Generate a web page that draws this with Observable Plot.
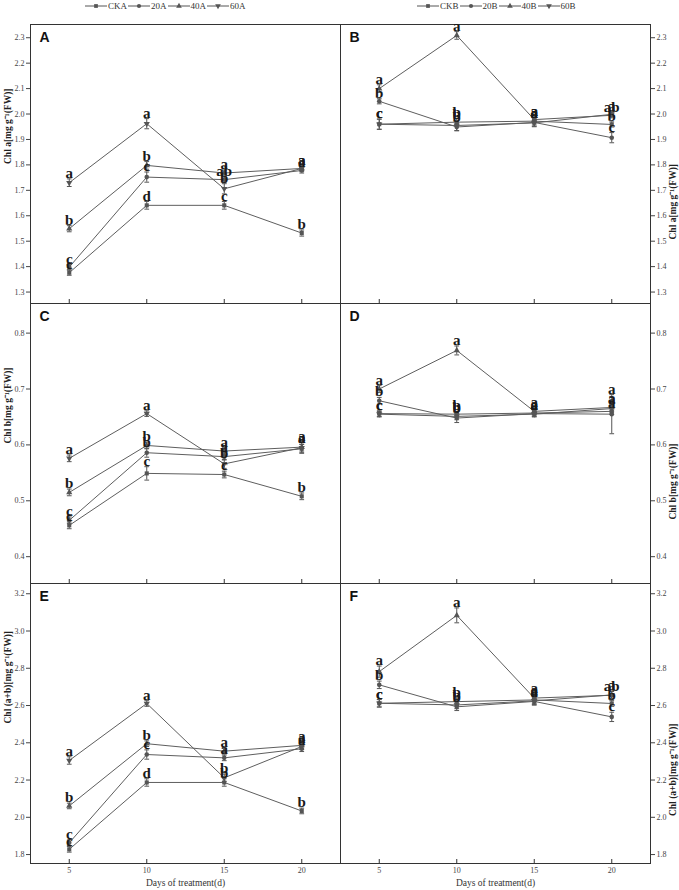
<!DOCTYPE html>
<html><head><meta charset="utf-8">
<script src="https://cdn.jsdelivr.net/npm/d3@7"></script>
<script src="https://cdn.jsdelivr.net/npm/@observablehq/plot@0.6"></script>
<style>
body{margin:0;background:#fff;}
#root{position:relative;width:679px;height:890px;overflow:hidden;background:#fff;font-family:"Liberation Serif",serif;}
.panel{position:absolute;}
.panel svg{overflow:visible;display:block;font-family:"Liberation Serif",serif;}
.legend{position:absolute;top:0;display:flex;align-items:center;font-size:9px;color:#333;height:11px;white-space:nowrap;font-family:"Liberation Serif",serif;}
.legend svg{display:block;}
.legend span{margin:0 1px;}
</style></head><body><div id="root"></div>
<script>
// ---------- data ----------
const days = [5, 10, 15, 20];
const seriesA = ["CKA", "20A", "40A", "60A"];
const seriesB = ["CKB", "20B", "40B", "60B"];

// Chl a, A group (rows: CK, 20, 40, 60)
const chlA_A = [[1.376, 1.641, 1.641, 1.532], [1.398, 1.752, 1.742, 1.778], [1.549, 1.798, 1.768, 1.786], [1.730, 1.962, 1.706, 1.786]];
const errA_A = [[0.010, 0.015, 0.015, 0.012], [0.010, 0.020, 0.012, 0.010], [0.012, 0.015, 0.012, 0.010], [0.015, 0.020, 0.020, 0.010]];
const letA_A = [["c", "d", "c", "b"], ["c", "c", "ab", "a"], ["b", "b", "a", "a"], ["a", "a", "b", "a"]];
// Chl a, B group
const chlA_B = [[1.960, 1.968, 1.972, 1.959], [2.050, 1.949, 1.967, 1.907], [2.100, 2.309, 1.978, 1.995], [1.960, 1.955, 1.965, 1.999]];
const errA_B = [[0.020, 0.015, 0.015, 0.010], [0.010, 0.015, 0.015, 0.020], [0.015, 0.015, 0.010, 0.010], [0.020, 0.020, 0.015, 0.010]];
const letA_B = [["c", "b", "a", "b"], ["b", "b", "a", "c"], ["a", "a", "a", "ab"], ["c", "b", "a", "a"]];
// Chl b, A group
const chlB_A = [[0.456, 0.549, 0.547, 0.508], [0.465, 0.586, 0.579, 0.593], [0.515, 0.599, 0.589, 0.596], [0.576, 0.656, 0.566, 0.595]];
const errB_A = [[0.006, 0.012, 0.006, 0.006], [0.006, 0.008, 0.006, 0.008], [0.006, 0.006, 0.006, 0.010], [0.006, 0.005, 0.008, 0.006]];
const letB_A = [["c", "c", "c", "b"], ["c", "b", "a", "a"], ["b", "b", "a", "a"], ["a", "a", "b", "a"]];
// Chl b, B group
const chlB_B = [[0.656, 0.655, 0.657, 0.660], [0.679, 0.648, 0.656, 0.655], [0.700, 0.769, 0.660, 0.667], [0.655, 0.651, 0.655, 0.665]];
const errB_B = [[0.005, 0.005, 0.005, 0.005], [0.006, 0.008, 0.005, 0.035], [0.006, 0.008, 0.006, 0.006], [0.005, 0.006, 0.005, 0.006]];
const letB_B = [["c", "b", "a", "a"], ["b", "b", "a", "a"], ["a", "a", "a", "a"], ["c", "b", "a", "a"]];
// Chl (a+b), A group
const chlT_A = [[1.828, 2.187, 2.187, 2.034], [1.863, 2.337, 2.319, 2.368], [2.061, 2.395, 2.355, 2.386], [2.305, 2.611, 2.212, 2.380]];
const errT_A = [[0.015, 0.020, 0.020, 0.015], [0.015, 0.025, 0.015, 0.015], [0.015, 0.015, 0.015, 0.020], [0.020, 0.015, 0.020, 0.015]];
const letT_A = [["c", "d", "b", "b"], ["c", "c", "a", "a"], ["b", "b", "a", "a"], ["a", "a", "b", "a"]];
// Chl (a+b), B group
const chlT_B = [[2.612, 2.621, 2.630, 2.611], [2.711, 2.593, 2.622, 2.539], [2.782, 3.084, 2.640, 2.655], [2.612, 2.603, 2.625, 2.657]];
const errT_B = [[0.020, 0.020, 0.020, 0.015], [0.020, 0.020, 0.020, 0.025], [0.030, 0.040, 0.020, 0.020], [0.020, 0.020, 0.020, 0.020]];
const letT_B = [["c", "b", "a", "b"], ["b", "b", "a", "c"], ["a", "a", "a", "ab"], ["c", "b", "a", "a"]];

const ticksChlA = [1.3, 1.4, 1.5, 1.6, 1.7, 1.8, 1.9, 2.0, 2.1, 2.2, 2.3];
const ticksChlB = [0.4, 0.5, 0.6, 0.7, 0.8];
const ticksChlT = [1.8, 2.0, 2.2, 2.4, 2.6, 2.8, 3.0, 3.2];
const labelChlA = "Chl a[mg g\u207B\u00B9(FW)]";
const labelChlB = "Chl b[mg g\u207B\u00B9(FW)]";
const labelChlT = "Chl (a+b)[mg g\u207B\u00B9(FW)]";
const xTitle = "Days of treatment(d)";

// ---------- symbols ----------
const sqrt3 = Math.sqrt(3);
const triDown = {draw(ctx, size) {
  const y = -Math.sqrt(size / (sqrt3 * 3));
  ctx.moveTo(0, -y * 2); ctx.lineTo(-sqrt3 * y, y); ctx.lineTo(sqrt3 * y, y); ctx.closePath();
}};
const capSym = {draw(ctx, size) { const w = Math.sqrt(size) / 1.2; ctx.moveTo(-w, 0); ctx.lineTo(w, 0); }};
const symbols = [d3.symbolSquare, d3.symbolCircle, d3.symbolTriangle, triDown];

const INK = "#555";
const SERIF = "Liberation Serif";
const root = document.getElementById("root");

function panel(cfg) {
  const {series, values, errs, letters, yDomain, yTicks, yLabel, tag, side, bottom, top, H} = cfg;
  const rows = [];
  series.forEach((s, i) => days.forEach((d, j) => rows.push({s, day: d, v: values[i][j], e: errs[i][j], L: letters[i][j]})));
  const left = side === "left";
  const mb = bottom ? 30 : 0;
  const plot = Plot.plot({
    width: left ? 340 : 339,
    height: H + mb,
    marginLeft: left ? 30 : 0,
    marginRight: left ? 0 : 29,
    marginTop: 0,
    marginBottom: mb,
    x: {domain: [2.5, 22.5], axis: null},
    y: {domain: yDomain, axis: null},
    symbol: {domain: series, range: symbols},
    style: {background: "transparent", overflow: "visible", fontFamily: SERIF},
    marks: [
      Plot.frame({stroke: "#333", strokeWidth: 1}),
      Plot.axisY({anchor: left ? "left" : "right", ticks: yTicks, tickFormat: d3.format(".1f"), tickSize: 4, tickPadding: 2, label: null, fontSize: 8, fontFamily: SERIF, color: "#444"}),
      Plot.tickX(days, {x: d => d, insetTop: H - 4, stroke: "#333"}),
      bottom ? Plot.axisX({ticks: days, tickSize: 0, tickPadding: 4, label: null, fontSize: 8, fontFamily: SERIF, color: "#444"}) : null,
      bottom ? Plot.text([xTitle], {text: d => d, frameAnchor: "bottom", dy: 22, fontSize: 9.5, fontFamily: SERIF, fill: "#333"}) : null,
      Plot.text([yLabel], {text: d => d, frameAnchor: left ? "left" : "right", rotate: -90, dx: left ? -23 : 22, fontWeight: "bold", fontSize: 9.5, fontFamily: SERIF, fill: "#222"}),
      Plot.text([tag], {text: d => d, frameAnchor: "top-left", dx: 9, dy: 8, lineAnchor: "top", textAnchor: "start", fontFamily: "Liberation Sans", fontWeight: "bold", fontSize: 14, fill: "#111"}),
      Plot.line(rows, {x: "day", y: "v", z: "s", stroke: "#5e5e5e", strokeWidth: 1}),
      Plot.ruleX(rows, {x: "day", y1: d => d.v - d.e, y2: d => d.v + d.e, stroke: INK, strokeWidth: 1}),
      Plot.dot(rows, {x: "day", y: d => d.v + d.e, symbol: capSym, r: 1.6, stroke: INK, strokeWidth: 1}),
      Plot.dot(rows, {x: "day", y: d => d.v - d.e, symbol: capSym, r: 1.6, stroke: INK, strokeWidth: 1}),
      Plot.dot(rows, {x: "day", y: "v", symbol: "s", r: 2.3, fill: INK, stroke: "none"}),
      Plot.text(rows, {x: "day", y: d => d.v + d.e, text: "L", dy: -1, lineAnchor: "bottom", fontWeight: "bold", fontSize: 15, fontFamily: SERIF, fill: "#1a1a1a"})
    ]
  });
  const div = document.createElement("div");
  div.className = "panel";
  div.style.left = (left ? 0 : 340) + "px";
  div.style.top = top + "px";
  div.appendChild(plot);
  root.appendChild(div);
}

function legend(series, x) {
  const div = document.createElement("div");
  div.className = "legend";
  div.style.left = x + "px";
  div.style.top = "0px";
  series.forEach((s, i) => {
    const path = d3.symbol(symbols[i], 14)();
    div.insertAdjacentHTML("beforeend",
      `<svg width="22" height="10"><line x1="0" y1="5" x2="22" y2="5" stroke="${INK}" stroke-width="1"/><path d="${path}" transform="translate(11,5)" fill="${INK}"/></svg><span>${s}</span>`);
  });
  root.appendChild(div);
}

legend(seriesA, 85);
legend(seriesB, 417);

panel({series: seriesA, values: chlA_A, errs: errA_A, letters: letA_A, yDomain: [1.255, 2.352], yTicks: ticksChlA, yLabel: labelChlA, tag: "A", side: "left", top: 24, H: 279});
panel({series: seriesB, values: chlA_B, errs: errA_B, letters: letA_B, yDomain: [1.255, 2.352], yTicks: ticksChlA, yLabel: labelChlA, tag: "B", side: "right", top: 24, H: 279});
panel({series: seriesA, values: chlB_A, errs: errB_A, letters: letB_A, yDomain: [0.352, 0.853], yTicks: ticksChlB, yLabel: labelChlB, tag: "C", side: "left", top: 303, H: 280});
panel({series: seriesB, values: chlB_B, errs: errB_B, letters: letB_B, yDomain: [0.352, 0.853], yTicks: ticksChlB, yLabel: labelChlB, tag: "D", side: "right", top: 303, H: 280});
panel({series: seriesA, values: chlT_A, errs: errT_A, letters: letT_A, yDomain: [1.752, 3.255], yTicks: ticksChlT, yLabel: labelChlT, tag: "E", side: "left", bottom: true, top: 583, H: 280});
panel({series: seriesB, values: chlT_B, errs: errT_B, letters: letT_B, yDomain: [1.752, 3.255], yTicks: ticksChlT, yLabel: labelChlT, tag: "F", side: "right", bottom: true, top: 583, H: 280});
</script></body></html>
